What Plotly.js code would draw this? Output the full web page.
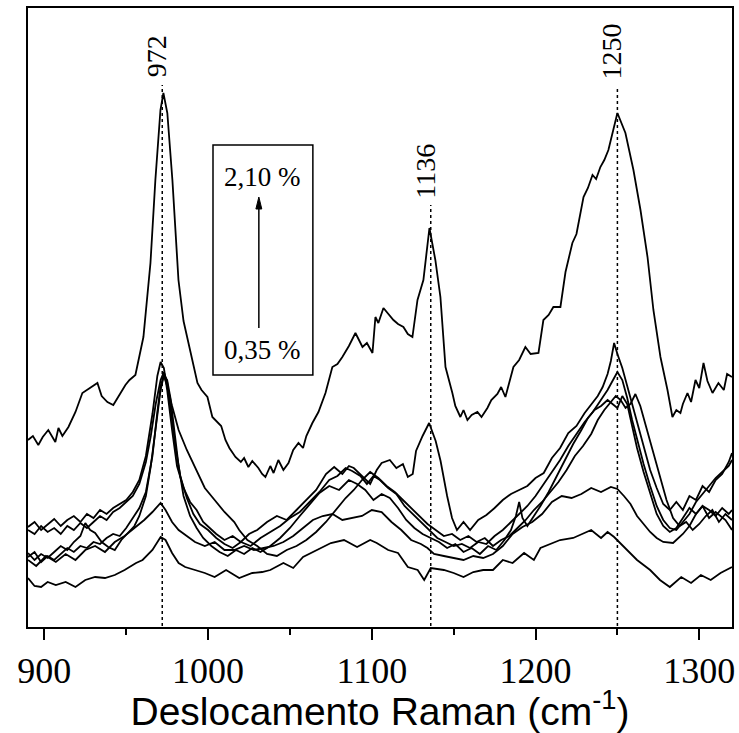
<!DOCTYPE html>
<html>
<head>
<meta charset="utf-8">
<script src="https://cdn.plot.ly/plotly-3.0.1.min.js"></script>
<style>html,body{margin:0;padding:0;background:#fff;}#chart{width:739px;height:733px;}</style>
</head>
<body>
<div id="chart"></div>
<script>
// Raman shift (cm-1) and intensity (a.u.)
const xA = [890,893,896.3,899,902.4,906.7,908.6,911,914.7,919,923.2,928,932.4,935,938.5,942.1,946,949.5,952,955.6,960.5,964.8,967.8,970.9,972.7,975.1,978.2,981.9,985,988.0,990,993.5,996,999.6,1002.6,1006.3,1008,1010.6,1013,1016.7,1020,1022,1024.6,1027,1030.7,1033,1035.0,1038,1040,1042.9,1046,1049.1,1052,1055.2,1058,1060,1063.7,1067.4,1071.7,1075.9,1079,1082.0,1086,1090.0,1092,1094.3,1097,1100.4,1102.2,1104,1107.1,1110,1113.2,1116,1119.3,1122,1124.8,1127.9,1131.5,1135.2,1138.8,1141.9,1145.0,1149.2,1151,1154.1,1156,1158.4,1161,1164.5,1167,1170.6,1173,1176.7,1179,1181.6,1186.5,1190,1193.8,1197,1201.8,1204.8,1208,1210.9,1215.2,1218.3,1222.5,1225,1229.3,1232,1234.8,1237,1239.6,1242,1244.5,1250.0,1252,1254.9,1259.8,1264.1,1268.4,1272.0,1276.3,1280.6,1283.6,1286,1288.5,1290,1292.8,1295,1297.7,1300,1302.6,1305,1308.1,1311.7,1315,1317,1320];
const yA = [186,190,181,189,196,184,198,190,199,214,233,238,243,230,224,221,232,241,246,251,289,363,446,516,533,513,446,346,305,283,270,243,236,229,209,203,200,186,178,169,164,168,159,165,158,152,149,160,153,166,156,163,176,183,178,190,203,214,233,259,262,269,280,293,286,279,283,273,309,303,318,312,306,302,299,292,289,326,346,398,366,329,259,233,220,209,216,206,211,214,209,218,226,232,239,229,259,266,279,272,273,306,311,319,319,354,383,392,429,438,451,447,459,466,476,513,505,493,456,416,369,316,269,236,209,216,213,222,233,224,246,238,263,245,233,243,236,252,249];

const xB = [890,894,898,902,906,910,914,918,922,926,930,934,938,942,946,950,954,958,962,966,969,971,973,975,978,981,985,989,993,997,1001,1005,1010,1015,1020,1025,1030,1036,1042,1048,1054,1060,1066,1072,1077,1082,1086,1089,1094,1099,1103,1106,1111,1115,1119,1122,1125,1127,1131,1135,1139,1142,1146,1149,1152,1156,1160,1165,1170,1175,1180,1185,1190,1195,1200,1205,1210,1215,1220,1225,1230,1234,1238,1241,1244,1246,1248,1250,1253,1256,1259,1262,1266,1270,1274,1278,1282,1286,1290,1294,1298,1302,1306,1310,1314,1318,1320];
const yB = [99,104,96,102,107,100,106,110,104,112,108,116,112,118,122,126,134,146,170,212,250,264,258,236,196,160,138,124,116,104,98,92,86,90,84,92,96,104,110,106,116,126,136,152,159,152,160,158,150,142,156,163,166,158,162,149,152,175,190,203,185,165,130,108,96,104,96,106,111,118,126,132,136,140,148,153,168,178,193,200,213,222,230,239,252,265,283,272,258,240,222,206,180,156,138,122,116,124,116,130,126,140,134,146,152,164,173];

const xC = [890,894,898,902,906,910,914,918,922,926,930,934,938,942,946,950,954,958,962,965,968,971,973,975,977,980,983,987,991,995,1000,1005,1010,1015,1020,1026,1032,1038,1044,1050,1056,1062,1068,1074,1079,1084,1088,1093,1097,1101,1105,1110,1115,1120,1125,1130,1135,1140,1145,1150,1155,1160,1165,1170,1175,1180,1185,1190,1195,1200,1205,1210,1215,1220,1225,1230,1235,1240,1244,1248,1250,1253,1256,1259,1262,1266,1270,1274,1278,1282,1286,1290,1294,1298,1302,1306,1310,1314,1318,1320];
const yC = [96,92,100,94,98,92,100,96,103,98,104,110,106,114,118,124,130,142,164,190,222,246,254,244,220,180,150,128,112,102,96,88,82,78,84,80,88,94,100,108,114,124,134,146,150,158,155,150,142,150,146,138,132,120,112,104,96,88,84,80,82,78,84,82,90,96,104,112,120,130,142,154,166,180,192,204,214,226,236,248,254,246,228,206,186,162,140,120,106,98,96,104,112,124,132,140,148,154,160,166];

const xD = [890,894,898,902,906,910,914,918,922,925,928,931,935,939,943,947,951,955,958,962,965,968,971,973,975,977,979,982,985,989,993,997,1002,1007,1012,1017,1022,1027,1032,1038,1044,1050,1056,1062,1068,1074,1080,1086,1091,1096,1101,1106,1111,1116,1121,1126,1131,1136,1141,1146,1151,1156,1161,1166,1171,1176,1181,1185,1188,1190,1192,1195,1199,1203,1208,1213,1218,1223,1228,1232,1236,1240,1244,1247,1250,1253,1256,1259,1262,1266,1270,1274,1278,1282,1286,1290,1294,1298,1302,1306,1310,1314,1318,1320];
const yD = [73,66,72,68,74,80,76,84,90,103,96,93,84,79,76,86,93,100,110,130,160,200,236,251,246,228,200,160,130,110,98,88,80,74,70,76,72,78,74,80,88,98,110,122,133,140,136,146,142,136,126,132,128,118,106,98,92,88,84,78,82,74,78,72,80,76,86,96,110,124,108,100,110,120,134,150,166,182,196,208,216,220,226,222,218,230,222,200,178,154,132,112,100,94,98,108,118,112,120,116,110,118,112,116];

const xE = [890,894,898,902,906,910,914,918,922,926,930,934,938,942,946,950,954,958,962,966,969,971,973,975,978,982,987,992,998,1004,1010,1016,1019,1024,1030,1036,1042,1048,1054,1060,1066,1072,1078,1084,1089,1094,1099,1104,1109,1114,1119,1124,1129,1134,1139,1144,1149,1154,1159,1164,1169,1174,1179,1184,1189,1194,1199,1204,1209,1214,1219,1224,1229,1234,1238,1242,1246,1249,1252,1255,1258,1261,1264,1268,1272,1276,1280,1284,1288,1292,1296,1300,1304,1308,1312,1316,1320];
const yE = [69,74,64,70,66,72,78,74,80,78,84,82,88,92,90,98,108,118,134,170,214,240,250,240,220,196,176,158,138,126,114,104,96,86,80,72,70,76,80,86,94,104,116,128,136,146,154,148,140,134,126,118,110,102,96,90,92,86,90,84,88,80,86,90,98,106,116,124,134,144,156,170,180,192,206,216,224,230,226,218,222,232,220,196,172,150,126,108,100,104,96,102,110,116,104,112,106];

const xF = [890,894,898,902,907,913,919,925,931,937,943,949,956,960,966,971,974,978,982,986,992,998,1004,1011,1019,1027,1033,1038,1046,1052,1058,1067,1075,1083,1091,1099,1103,1110,1116,1122,1128,1132,1136,1144,1150,1156,1162,1168,1174,1180,1186,1193,1199,1203,1209,1215,1223,1228,1234,1240,1244,1248,1254,1262,1270,1276,1282,1289,1295,1301,1307,1313,1320];
const yF = [48,40,39,44,41,44,39,46,49,48,51,56,63,66,76,89,86,73,63,59,56,53,49,56,48,53,54,56,63,58,69,76,83,86,79,86,83,76,73,59,56,46,58,56,53,49,54,56,56,66,63,73,66,78,82,86,88,92,96,88,94,89,79,66,56,46,39,49,43,51,46,53,59];

const xG = [890,895,901,907,913,919,925,931,937,943,949,955,961,966,971,974,978,982,987,992,998,1004,1010,1016,1022,1028,1034,1040,1046,1052,1058,1064,1070,1076,1082,1088,1094,1100,1106,1112,1118,1124,1130,1134,1138,1144,1150,1156,1162,1168,1174,1180,1186,1192,1198,1204,1210,1216,1222,1228,1234,1240,1246,1250,1254,1258,1262,1266,1270,1274,1278,1284,1290,1294,1298,1302,1306,1310,1316,1320];
const yG = [66,60,70,64,72,66,76,80,74,84,90,98,106,114,123,116,104,96,90,84,80,84,76,76,80,76,78,80,84,90,98,106,110,112,106,108,110,116,114,104,96,86,82,78,72,70,68,66,70,68,72,80,92,99,104,112,124,130,128,132,138,134,139,137,130,122,110,102,94,88,84,83,92,100,112,120,108,114,106,96];

const peakPos = [972, 1136, 1250];
const peakLabels = ['972', '1136', '1250'];
const peakLineTop = [541, 421, 538];
const peakLabelY = [570, 455, 575];
const tickValues = [900, 1000, 1100, 1200, 1300];
const concTop = '2,10 %';
const concBottom = '0,35 %';

const series = [[xA,yA],[xB,yB],[xC,yC],[xD,yD],[xE,yE],[xG,yG],[xF,yF]];
const traces = series.map(s => ({
  x: s[0], y: s[1], type: 'scatter', mode: 'lines',
  line: {color: '#000', width: 1.8}, showlegend: false, hoverinfo: 'skip'
}));

const serif = '"Liberation Serif", "Times New Roman", serif';
const shapes = peakPos.map((p, i) => ({
  type: 'line', xref: 'x', yref: 'y', x0: p, x1: p, y0: 0, y1: peakLineTop[i],
  line: {color: '#000', width: 1.5, dash: 'dot'}
}));
// legend box with concentration arrow
shapes.push({type: 'rect', xref: 'x', yref: 'y', x0: 1003, x1: 1064, y0: 251, y1: 481,
  line: {color: '#000', width: 1.5}, fillcolor: 'rgba(0,0,0,0)'});
shapes.push({type: 'line', xref: 'x', yref: 'y', x0: 1031, x1: 1031, y0: 298, y1: 418,
  line: {color: '#000', width: 1.5}});
shapes.push({type: 'path', xref: 'x', yref: 'y', path: 'M 1029.2 417 L 1032.8 417 L 1031 429 Z',
  line: {color: '#000', width: 1}, fillcolor: '#000'});

const annotations = peakPos.map((p, i) => ({
  x: p, y: peakLabelY[i], xref: 'x', yref: 'y', text: peakLabels[i], showarrow: false,
  textangle: -90, xshift: -6, font: {family: serif, size: 28, color: '#000'}
}));
annotations.push({x: 1033, y: 449, xref: 'x', yref: 'y', text: concTop, showarrow: false,
  font: {family: serif, size: 27, color: '#000'}});
annotations.push({x: 1033, y: 276, xref: 'x', yref: 'y', text: concBottom, showarrow: false,
  font: {family: serif, size: 27, color: '#000'}});

const layout = {
  width: 739, height: 733,
  margin: {l: 28, r: 7, t: 8, b: 106},
  paper_bgcolor: '#fff', plot_bgcolor: '#fff',
  xaxis: {
    range: [890, 1320], tickvals: tickValues, ticktext: tickValues.map(String),
    ticks: 'outside', ticklen: 11, tickwidth: 2, tickcolor: '#000',
    minor: {ticks: 'outside', ticklen: 6, tickwidth: 2, tickcolor: '#000', tickvals: [950, 1050, 1150, 1250]},
    showline: true, linecolor: '#000', linewidth: 2, mirror: true,
    showgrid: false, zeroline: false,
    tickfont: {family: serif, size: 36, color: '#000'},
    title: {text: 'Deslocamento Raman (cm<sup>-1</sup>)', standoff: 7,
      font: {family: '"Liberation Sans", Arial, sans-serif', size: 39, color: '#000'}}
  },
  yaxis: {
    range: [-1, 618], showticklabels: false, ticks: '',
    showline: true, linecolor: '#000', linewidth: 2, mirror: true,
    showgrid: false, zeroline: false
  },
  shapes: shapes,
  annotations: annotations
};

Plotly.newPlot('chart', traces, layout, {staticPlot: true, displayModeBar: false});
</script>
</body>
</html>
